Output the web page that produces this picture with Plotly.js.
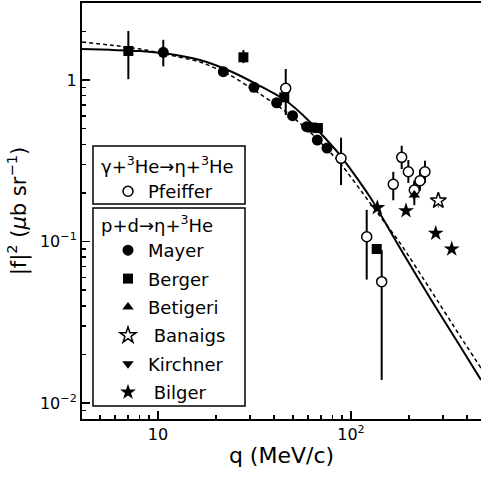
<!DOCTYPE html>
<html>
<head>
<meta charset="utf-8">
<script src="https://cdn.plot.ly/plotly-3.0.1.min.js"></script>
<style>html,body{margin:0;padding:0;background:#fff;}#chart{width:481px;height:478px;}</style>
</head>
<body>
<div id="chart"></div>
<script>
// ---- theory curves ----
const curveQ = [4.04, 5.64, 8.07, 11.5, 16.5, 23.6, 33.8, 45.5, 61.3, 87.7, 125.5, 179.4, 256.7, 367.1, 471.7];
const solidF2 = [1.556, 1.538, 1.512, 1.449, 1.330, 1.137, 0.918, 0.752, 0.550, 0.343, 0.1886, 0.0912, 0.0447, 0.02254, 0.01388];
const dashedF2 = [1.719, 1.647, 1.556, 1.428, 1.293, 1.074, 0.819, 0.643, 0.4766, 0.306, 0.1731, 0.0979, 0.0508, 0.0260, 0.01647];

// ---- Mayer (p+d) ----
const mayerQ = [10.65, 21.8, 31.4, 41.2, 49.8, 58.9, 66.9, 75.1];
const mayerF2 = [1.484, 1.126, 0.901, 0.723, 0.601, 0.514, 0.425, 0.379];
const mayerErrUp = [0.29, 0, 0, 0, 0, 0, 0, 0];
const mayerErrDn = [0.27, 0, 0, 0, 0, 0, 0, 0];

// ---- Berger ----
const bergerQ = [7.02, 27.7, 45.1, 62.8, 67.4, 135.9];
const bergerF2 = [1.512, 1.382, 0.781, 0.508, 0.504, 0.0899];
const bergerErrUp = [0.50, 0.15, 0, 0, 0, 0];
const bergerErrDn = [0.50, 0.11, 0, 0, 0, 0];

// ---- Pfeiffer (gamma + 3He) ----
const pfeifferQ = [45.9, 88.8, 120.6, 144.2, 165.6, 183.1, 198.2, 212.8, 227.8, 241.7];
const pfeifferF2 = [0.888, 0.3274, 0.1071, 0.0564, 0.226, 0.332, 0.2705, 0.2084, 0.2379, 0.2705];
const pfeifferErrUp = [0.282, 0.112, 0.050, 0.032, 0.044, 0.060, 0.049, 0.030, 0.040, 0.046];
const pfeifferErrDn = [0.281, 0.104, 0.049, 0.0425, 0.046, 0.051, 0.040, 0.025, 0.032, 0.040];

// ---- Betigeri ----
const betigeriQ = [212.8];
const betigeriF2 = [0.194];
const betigeriErrUp = [0.036];
const betigeriErrDn = [0.026];

// ---- Banaigs ----
const banaigsQ = [283.4];
const banaigsF2 = [0.179];
const banaigsErrUp = [0.018];
const banaigsErrDn = [0.017];

// ---- Kirchner (no point visible in the plotted range) ----
const kirchnerQ = [null];
const kirchnerF2 = [null];

// ---- Bilger ----
const bilgerQ = [136.9, 192.8, 274.8, 332.5];
const bilgerF2 = [0.162, 0.155, 0.1124, 0.0899];

// ---- tick labels ----
const xTickVals = [10, 100];
const xTickText = ['10', '10<sup>2</sup>'];
const xMinorVals = [5, 6, 7, 8, 9, 20, 30, 40, 50, 60, 70, 80, 90, 200, 300, 400];
const yTickVals = [0.01, 0.1, 1];
const yTickText = ['10<sup>\u22122</sup>', '10<sup>\u22121</sup>', '1'];
const yMinorVals = [0.008, 0.009, 0.02, 0.03, 0.04, 0.05, 0.06, 0.07, 0.08, 0.09,
                    0.2, 0.3, 0.4, 0.5, 0.6, 0.7, 0.8, 0.9, 2, 3];

// ---- layout geometry helpers (pixel -> paper) ----
const W = 481, H = 478, ML = 82, MR = 0, MT = 3, MB = 59;
const PW = W - ML - MR, PH = H - MT - MB;
const px = x => (x - ML) / PW;
const py = y => (H - MB - y) / PH;

const FONT = 'DejaVu Sans, Arial, sans-serif';

function errTrace(x, y, up, dn, color, dotted) {
  return {
    x: x, y: y, type: 'scatter', mode: 'markers', showlegend: false, hoverinfo: 'skip',
    marker: {size: 1, color: 'rgba(0,0,0,0)'},
    error_y: {type: 'data', symmetric: false, array: up, arrayminus: dn, width: 0,
              thickness: dotted ? 1 : 2, color: color}
  };
}

const traces = [
  {x: curveQ, y: solidF2, type: 'scatter', mode: 'lines', showlegend: false,
   line: {color: '#000', width: 2, shape: 'spline', smoothing: 0.6}},
  {x: curveQ, y: dashedF2, type: 'scatter', mode: 'lines', showlegend: false,
   line: {color: '#000', width: 1.5, dash: '4px,3px', shape: 'spline', smoothing: 0.6}},
  errTrace(mayerQ, mayerF2, mayerErrUp, mayerErrDn, '#000'),
  errTrace(bergerQ, bergerF2, bergerErrUp, bergerErrDn, '#000'),
  errTrace(pfeifferQ, pfeifferF2, pfeifferErrUp, pfeifferErrDn, '#000'),
  errTrace(betigeriQ, betigeriF2, betigeriErrUp, betigeriErrDn, '#000'),
  errTrace(banaigsQ, banaigsF2, banaigsErrUp, banaigsErrDn, '#555', true),
  {x: pfeifferQ, y: pfeifferF2, type: 'scatter', mode: 'markers', name: 'Pfeiffer',
   legend: 'legend2', legendgroup: 'g0',
   marker: {symbol: 'circle', size: 10, color: '#fff', line: {color: '#000', width: 1.5}}},
  {x: mayerQ, y: mayerF2, type: 'scatter', mode: 'markers', name: 'Mayer', legendgroup: 'g1',
   marker: {symbol: 'circle', size: 11, color: '#000'}},
  {x: bergerQ, y: bergerF2, type: 'scatter', mode: 'markers', name: 'Berger', legendgroup: 'g2',
   marker: {symbol: 'square', size: 10, color: '#000'}},
  {x: betigeriQ, y: betigeriF2, type: 'scatter', mode: 'markers', name: 'Betigeri', legendgroup: 'g3',
   marker: {symbol: 'triangle-up', size: 10, color: '#000'}},
  {x: banaigsQ, y: banaigsF2, type: 'scatter', mode: 'markers', name: '\u00a0Banaigs', legendgroup: 'g4',
   marker: {symbol: 'star', size: 12, color: '#fff', line: {color: '#000', width: 1.5}}},
  {x: kirchnerQ, y: kirchnerF2, type: 'scatter', mode: 'markers', name: 'Kirchner', legendgroup: 'g5',
   marker: {symbol: 'triangle-down', size: 10, color: '#000'}},
  {x: bilgerQ, y: bilgerF2, type: 'scatter', mode: 'markers', name: '\u00a0Bilger', legendgroup: 'g6',
   marker: {symbol: 'star', size: 12, color: '#000'}}
];

const layout = {
  width: W, height: H,
  margin: {l: ML, r: MR, t: MT, b: MB, pad: 0},
  paper_bgcolor: '#fff', plot_bgcolor: '#fff',
  font: {family: FONT, color: '#000', size: 16},
  showlegend: true,
  xaxis: {
    type: 'log', range: [0.6062, 2.6736], autorange: false,
    showline: true, linecolor: '#000', linewidth: 2, mirror: true,
    showgrid: false, zeroline: false,
    ticks: 'inside', ticklen: 8, tickwidth: 1.5, tickcolor: '#000',
    tickmode: 'array', tickvals: xTickVals, ticktext: xTickText,
    tickfont: {family: FONT, size: 16},
    minor: {tickmode: 'array', tickvals: xMinorVals, ticks: 'inside', ticklen: 4, tickwidth: 1.5, tickcolor: '#000', showgrid: false},
    title: {text: 'q (MeV/c)', font: {family: FONT, size: 22}, standoff: 4}
  },
  yaxis: {
    type: 'log', range: [-2.099, 0.4768], autorange: false,
    showline: true, linecolor: '#000', linewidth: 2, mirror: false,
    showgrid: false, zeroline: false,
    ticks: 'inside', ticklen: 8, tickwidth: 1.5, tickcolor: '#000',
    tickmode: 'array', tickvals: yTickVals, ticktext: yTickText,
    tickfont: {family: FONT, size: 16},
    minor: {tickmode: 'array', tickvals: yMinorVals, ticks: 'inside', ticklen: 4, tickwidth: 1.5, tickcolor: '#000', showgrid: false},
    title: {text: '|f|<sup>2</sup> (<i>\u03bc</i>b sr<sup>\u22121</sup>)', font: {family: FONT, size: 21}, standoff: 8}
  },
  legend: {
    x: px(108), y: py(232), xanchor: 'left', yanchor: 'top',
    bgcolor: 'rgba(0,0,0,0)', borderwidth: 0,
    font: {family: FONT, size: 18}, tracegroupgap: 2, itemsizing: 'trace'
  },
  legend2: {
    x: px(108), y: py(173), xanchor: 'left', yanchor: 'top',
    bgcolor: 'rgba(0,0,0,0)', borderwidth: 0,
    font: {family: FONT, size: 18}
  },
  shapes: [
    {type: 'rect', xref: 'paper', yref: 'paper', x0: px(93), x1: px(245), y0: py(146), y1: py(204),
     line: {color: '#000', width: 1.5}, fillcolor: '#fff', layer: 'below'},
    {type: 'rect', xref: 'paper', yref: 'paper', x0: px(93), x1: px(245), y0: py(208), y1: py(406),
     line: {color: '#000', width: 1.5}, fillcolor: '#fff', layer: 'below'}
  ],
  annotations: [
    {xref: 'paper', yref: 'paper', x: px(99), y: py(165), xanchor: 'left', yanchor: 'middle', showarrow: false,
     text: '\u03b3+<sup>3</sup>He\u2192\u03b7+<sup>3</sup>He', font: {family: FONT, size: 18}},
    {xref: 'paper', yref: 'paper', x: px(99), y: py(224), xanchor: 'left', yanchor: 'middle', showarrow: false,
     text: 'p+d\u2192\u03b7+<sup>3</sup>He', font: {family: FONT, size: 18}}
  ]
};

Plotly.newPlot('chart', traces, layout, {staticPlot: true, displayModeBar: false});
</script>
</body>
</html>
